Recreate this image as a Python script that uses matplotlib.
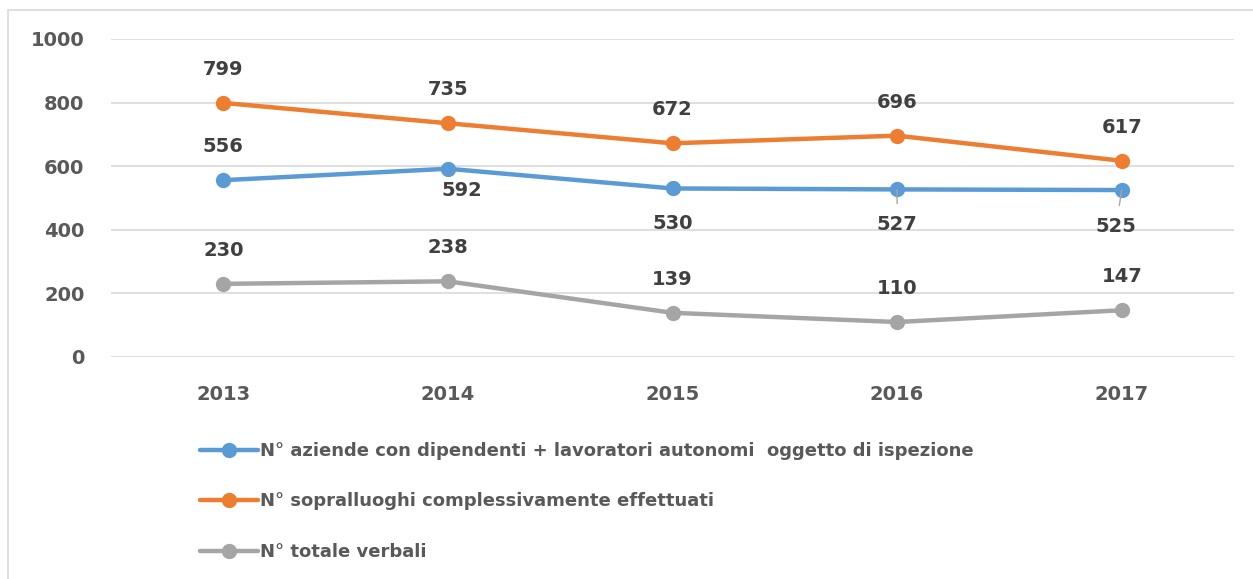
import matplotlib.pyplot as plt
from matplotlib.patches import Rectangle

# Data
years = ['2013', '2014', '2015', '2016', '2017']
aziende = [556, 592, 530, 527, 525]
sopralluoghi = [799, 735, 672, 696, 617]
verbali = [230, 238, 139, 110, 147]

labels = [
    'N° aziende con dipendenti + lavoratori autonomi  oggetto di ispezione',
    'N° sopralluoghi complessivamente effettuati',
    'N° totale verbali',
]

# label offsets (points) per point
off_aziende = [(0, 24), (10, -16), (0, -25), (0, -25), (-4, -26)]
off_sopr = [(0, 24), (0, 24), (0, 24), (0, 24), (0, 24)]
off_verb = [(0, 24), (0, 24), (0, 24), (0, 24), (0, 24)]

BLUE = '#5B9BD5'
ORANGE = '#ED7D31'
GRAY = '#A5A5A5'
TXT = '#404040'
TICK = '#595959'

fig = plt.figure(figsize=(12.53, 5.79), dpi=100)
ax = fig.add_axes([111 / 1253, 1 - 357 / 579, (1234 - 111) / 1253, (357 - 39) / 579])

# chart border (cut off at right and bottom)
fig.patches.append(Rectangle((8 / 1253, -0.1), 1.2, 1 - 10 / 579 + 0.1,
                             transform=fig.transFigure, fill=False,
                             edgecolor='#D9D9D9', linewidth=1.2))

x = list(range(len(years)))
series = [(aziende, BLUE, off_aziende), (sopralluoghi, ORANGE, off_sopr), (verbali, GRAY, off_verb)]
for (vals, col, offs), lab in zip(series, labels):
    ax.plot(x, vals, color=col, linewidth=3.2, marker='o', markersize=10,
            label=lab, solid_capstyle='round', zorder=3)
    for xi, v, o in zip(x, vals, offs):
        leader = o[1] < -20 and xi >= 3
        ax.annotate(str(v), (xi, v), xytext=o, textcoords='offset points',
                    ha='center', va='center', fontsize=14, fontweight='bold',
                    color=TXT, zorder=4,
                    arrowprops=dict(arrowstyle='-', color='#A6A6A6', lw=1,
                                    shrinkA=6, shrinkB=0) if leader else None)

ax.set_xlim(-0.5, len(years) - 0.5)
ax.set_ylim(0, 1000)
ax.set_yticks([0, 200, 400, 600, 800, 1000])
ax.set_xticks(x)
ax.set_xticklabels(years)
ax.grid(axis='y', color='#D9D9D9', linewidth=1.2)
ax.set_axisbelow(True)
for s in ax.spines.values():
    s.set_visible(False)
ax.tick_params(length=0, labelsize=14, labelcolor=TICK)
ax.tick_params(axis='x', pad=20)
ax.tick_params(axis='y', pad=19)
for t in ax.get_xticklabels() + ax.get_yticklabels():
    t.set_fontweight('bold')

leg = fig.legend(loc='upper left', bbox_to_anchor=(200 / 1253, 1 - 442 / 579),
                 frameon=False, fontsize=13, handlelength=3.2, handletextpad=0.1,
                 labelspacing=1.8, borderpad=0, borderaxespad=0)
for t in leg.get_texts():
    t.set_color(TICK)
    t.set_fontweight('bold')

fig.savefig('out.png', dpi=100)
